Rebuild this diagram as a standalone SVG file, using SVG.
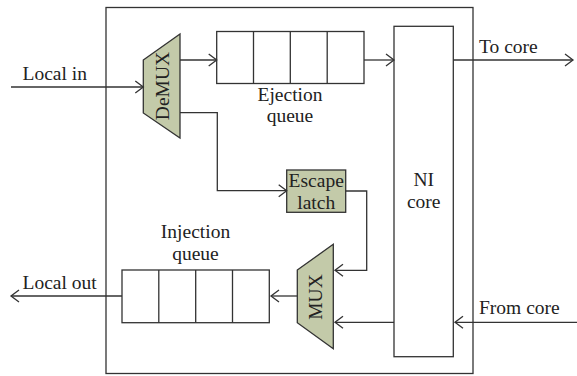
<svg xmlns="http://www.w3.org/2000/svg" width="577" height="376" viewBox="0 0 577 376">
<style>
.ln{fill:none;stroke:#333;stroke-width:1.3}
.bx{fill:#fff;stroke:#333;stroke-width:1.3}
.gr{fill:#c3caa9;stroke:#333;stroke-width:1.3}
text{font-family:"Liberation Serif","Times New Roman",serif;font-size:19.5px;fill:#222}
.c{text-anchor:middle}
</style>
<defs>
<marker id="ar" markerUnits="userSpaceOnUse" markerWidth="12" markerHeight="14" refX="10" refY="7" orient="auto">
<path d="M2,1 L10,7 L2,13" fill="none" stroke="#333" stroke-width="1.3"/>
</marker>
</defs>
<rect id="outer" x="106" y="7.5" width="367" height="366" class="bx" fill="none"/>
<g id="ejection-queue">
<rect x="216.7" y="31.5" width="147.3" height="52" class="bx"/>
<path d="M253.5,31.5V83.5M290.3,31.5V83.5M327.2,31.5V83.5" class="ln"/>
<text x="290" y="101" class="c">Ejection</text>
<text x="290" y="122" class="c">queue</text>
</g>
<g id="injection-queue">
<rect x="122" y="270" width="147.3" height="52.7" class="bx"/>
<path d="M158.8,270V322.7M195.7,270V322.7M232.5,270V322.7" class="ln"/>
<text x="195.5" y="238" class="c">Injection</text>
<text x="195.5" y="259.5" class="c">queue</text>
</g>
<g id="demux">
<path d="M143.3,60 L180,34 L180,138 L143.3,113 Z" class="gr"/>
<text transform="translate(162.5,86) rotate(-90)" class="c" dominant-baseline="central">DeMUX</text>
</g>
<g id="mux">
<path d="M297.3,270 L333.3,244.3 L333.3,348.7 L297.3,322.7 Z" class="gr"/>
<text transform="translate(315.5,297) rotate(-90)" class="c" dominant-baseline="central">MUX</text>
</g>
<g id="escape-latch">
<rect x="286.7" y="170" width="59" height="42.3" class="gr"/>
<text x="316.2" y="186.5" class="c">Escape</text>
<text x="316.2" y="208.5" class="c">latch</text>
</g>
<g id="ni-core">
<rect x="394" y="26.3" width="59.3" height="330.4" class="bx"/>
<text x="423.7" y="186" class="c">NI</text>
<text x="423.7" y="207.5" class="c">core</text>
</g>
<g id="labels">
<text x="22.5" y="80">Local in</text>
<text x="22.5" y="289">Local out</text>
<text x="479" y="53">To core</text>
<text x="479" y="314">From core</text>
</g>
<g id="connectors">
<path d="M11,87 H143.3" class="ln" marker-end="url(#ar)"/>
<path d="M180,60 H216.7" class="ln" marker-end="url(#ar)"/>
<path d="M180,112.7 H217.3 V190.7 H286.7" class="ln" marker-end="url(#ar)"/>
<path d="M364,60 H394" class="ln" marker-end="url(#ar)"/>
<path d="M453.3,60 H573" class="ln" marker-end="url(#ar)"/>
<path d="M345.7,191 H366.7 V270.3 H335" class="ln" marker-end="url(#ar)"/>
<path d="M577,322.3 H455" class="ln" marker-end="url(#ar)"/>
<path d="M394,322.3 H335" class="ln" marker-end="url(#ar)"/>
<path d="M297.3,296 H271" class="ln" marker-end="url(#ar)"/>
<path d="M122,296 H11" class="ln" marker-end="url(#ar)"/>
</g>
</svg>
